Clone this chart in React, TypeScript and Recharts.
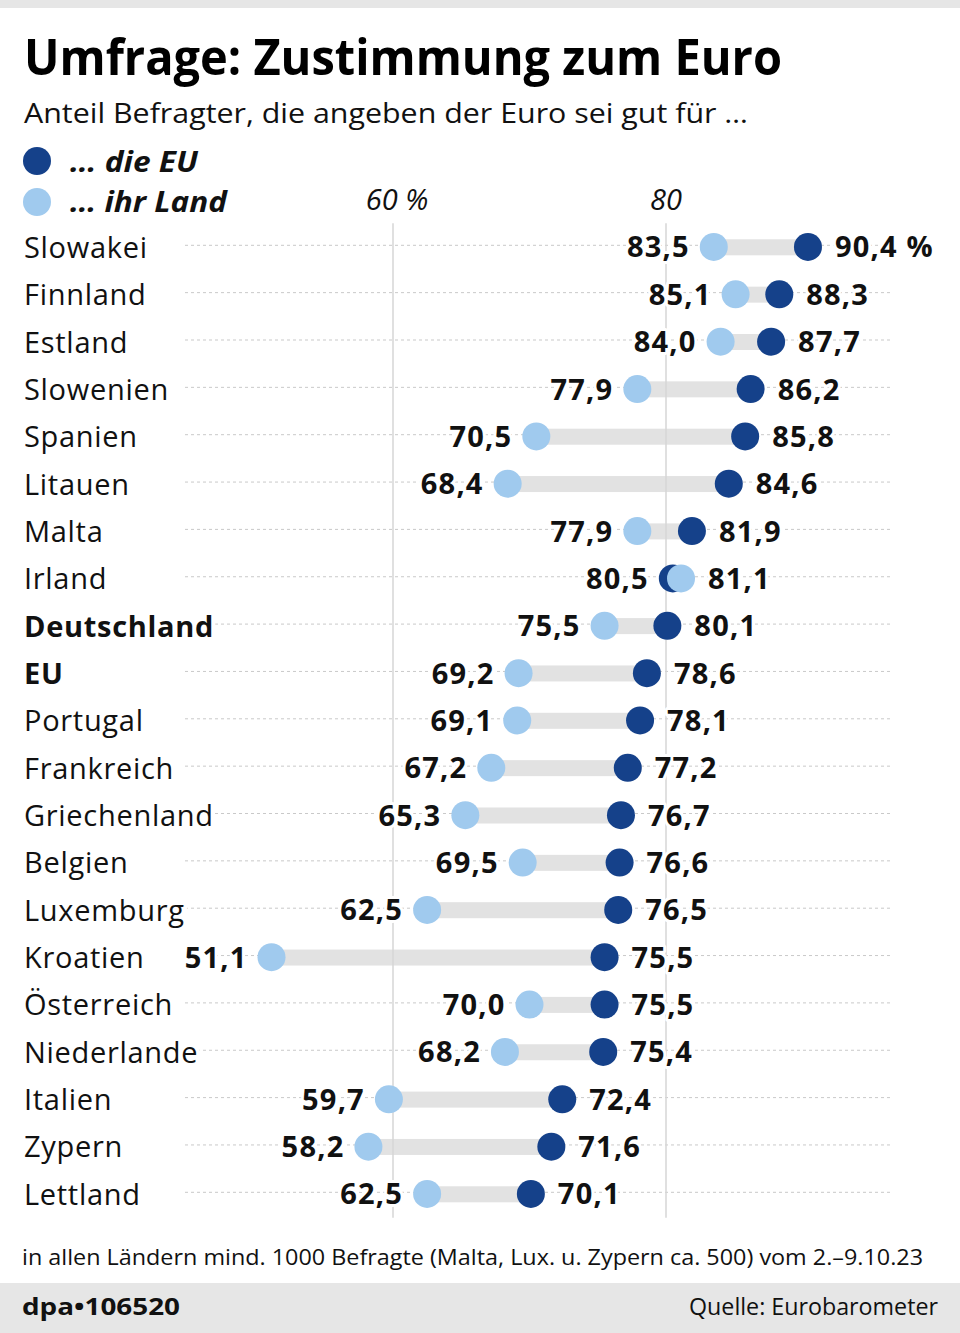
import React from 'react';
import { ComposedChart, Bar, Line, XAxis, YAxis, ReferenceLine } from 'recharts';

const countries = [
  'Slowakei', 'Finnland', 'Estland', 'Slowenien', 'Spanien', 'Litauen', 'Malta', 'Irland',
  'Deutschland', 'EU', 'Portugal', 'Frankreich', 'Griechenland', 'Belgien', 'Luxemburg',
  'Kroatien', 'Österreich', 'Niederlande', 'Italien', 'Zypern', 'Lettland',
];
const landValues = [
  83.5, 85.1, 84.0, 77.9, 70.5, 68.4, 77.9, 81.1, 75.5, 69.2, 69.1, 67.2, 65.3, 69.5, 62.5,
  51.1, 70.0, 68.2, 59.7, 58.2, 62.5,
];
const euValues = [
  90.4, 88.3, 87.7, 86.2, 85.8, 84.6, 81.9, 80.5, 80.1, 78.6, 78.1, 77.2, 76.7, 76.6, 76.5,
  75.5, 75.5, 75.4, 72.4, 71.6, 70.1,
];
const boldCountries = ['Deutschland', 'EU'];
const axisTicks = [60, 80];
const axisDomain = [40, 100];

const DARK = '#15418a';
const LIGHT = '#a0caee';
const FONT = '"Open Sans", "Noto Sans", sans-serif';

const data = countries.map((c, i) => ({
  country: c,
  land: landValues[i],
  eu: euValues[i],
  range: [Math.min(landValues[i], euValues[i]), Math.max(landValues[i], euValues[i])],
}));

const fmt = (v: number) => v.toFixed(1).replace('.', ',');

const RowShape = (props: any) => {
  const { x, y, width, height, payload } = props;
  const cy = y + height / 2;
  const name = payload && payload.country;
  const bold = boldCountries.includes(name);
  return (
    <g>
      <line x1={185} x2={893} y1={cy - 2} y2={cy - 2} stroke="#c9c9c9" strokeDasharray="3 3" strokeWidth={1} />
      <rect x={x} y={cy - 8} width={Math.max(0, width)} height={16} fill="#e2e2e2" />
      <text
        x={24}
        y={cy + 10.5}
        fontFamily={FONT}
        fontSize={29}
        letterSpacing={0.7}
        fontWeight={bold ? 700 : 400}
        fill="#111"
        stroke="#fff"
        strokeWidth={8}
        paintOrder="stroke"
        strokeLinejoin="round"
      >
        {name}
      </text>
    </g>
  );
};

const makeDot = (kind: 'eu' | 'land') => (props: any) => {
  const { cx, cy, payload, index } = props;
  if (cx == null || cy == null) return <g key={`${kind}-${index}`} />;
  const v = payload[kind];
  const other = kind === 'eu' ? payload.land : payload.eu;
  const isRight = v >= other;
  const txt = fmt(v) + (index === 0 && isRight ? ' %' : '');
  return (
    <g key={`${kind}-${index}`}>
      <circle cx={cx} cy={cy} r={14} fill={kind === 'eu' ? DARK : LIGHT} />
      <text
        x={isRight ? cx + 27 : cx - 24}
        y={cy + 10.5}
        textAnchor={isRight ? 'start' : 'end'}
        fontFamily={FONT}
        fontSize={29}
        letterSpacing={1.2}
        fontWeight={700}
        fill="#111"
        stroke="#fff"
        strokeWidth={6}
        paintOrder="stroke"
        strokeLinejoin="round"
      >
        {txt}
      </text>
    </g>
  );
};

const AxisTick = (props: any) => {
  const { x, payload } = props;
  const label = payload.value === 60 ? '60 %' : String(payload.value);
  return (
    <text x={x + (payload.value === 60 ? 4 : 0)} y={210} textAnchor="middle" fontFamily={FONT} fontSize={29} fontStyle="italic" fill="#111">
      {label}
    </text>
  );
};

export default function App() {
  return (
    <div style={{ position: 'absolute', left: 0, top: 0, width: 960, height: 1333, background: '#fff', overflow: 'hidden' }}>
      <svg width={960} height={1333} style={{ position: 'absolute', left: 0, top: 0 }}>
        <rect x={0} y={0} width={960} height={8} fill="#e6e6e6" />
        <rect x={0} y={1283} width={960} height={50} fill="#e6e6e6" />
        <text x={24} y={75} fontFamily={FONT} fontSize={50} fontWeight={700} fill="#000" textLength={758} lengthAdjust="spacingAndGlyphs">
          Umfrage: Zustimmung zum Euro
        </text>
        <text x={24} y={123} fontFamily={FONT} fontSize={28} fill="#111" textLength={724} lengthAdjust="spacingAndGlyphs">
          Anteil Befragter, die angeben der Euro sei gut für …
        </text>
        <circle cx={37} cy={161} r={14} fill={DARK} />
        <circle cx={37} cy={202} r={14} fill={LIGHT} />
        <text x={70} y={172} fontFamily={FONT} fontSize={28} fontWeight={700} fontStyle="italic" fill="#111" textLength={128} lengthAdjust="spacingAndGlyphs">
          … die EU
        </text>
        <text x={70} y={212} fontFamily={FONT} fontSize={28} fontWeight={700} fontStyle="italic" fill="#111" textLength={157} lengthAdjust="spacingAndGlyphs">
          … ihr Land
        </text>
        <text x={22} y={1265} fontFamily={FONT} fontSize={22} fill="#111" textLength={901} lengthAdjust="spacingAndGlyphs">
          in allen Ländern mind. 1000 Befragte (Malta, Lux. u. Zypern ca. 500) vom 2.–9.10.23
        </text>
        <text x={22} y={1315} fontFamily={FONT} fontSize={24} fontWeight={700} fill="#111" textLength={158} lengthAdjust="spacingAndGlyphs">
          dpa•106520
        </text>
        <text x={938} y={1315} textAnchor="end" fontFamily={FONT} fontSize={23} fill="#111" textLength={249} lengthAdjust="spacingAndGlyphs">
          Quelle: Eurobarometer
        </text>
      </svg>
      <div style={{ position: 'absolute', left: 0, top: 0 }}>
        <ComposedChart
          width={960}
          height={1333}
          data={data}
          layout="vertical"
          margin={{ top: 193.3, right: 21, bottom: 115.35, left: 120 }}
          barCategoryGap={0}
        >
          <XAxis
            type="number"
            orientation="top"
            domain={axisDomain}
            ticks={axisTicks}
            height={30}
            axisLine={false}
            tickLine={false}
            tick={<AxisTick />}
          />
          <YAxis type="category" dataKey="country" hide width={0} />
          <ReferenceLine x={60} stroke="#d6d6d6" strokeWidth={1.5} />
          <ReferenceLine x={80} stroke="#d6d6d6" strokeWidth={1.5} />
          <Bar dataKey="range" barSize={16} shape={<RowShape />} isAnimationActive={false} />
          <Line dataKey="eu" stroke="none" dot={makeDot('eu')} activeDot={false} isAnimationActive={false} />
          <Line dataKey="land" stroke="none" dot={makeDot('land')} activeDot={false} isAnimationActive={false} />
        </ComposedChart>
      </div>
    </div>
  );
}
